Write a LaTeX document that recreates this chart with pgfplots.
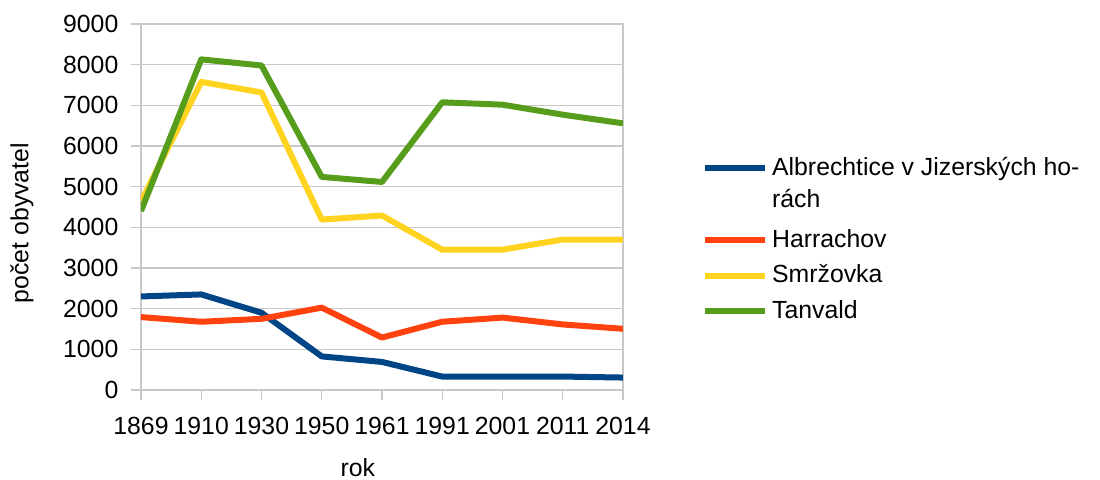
\documentclass[border=0pt]{standalone}
\usepackage{pgfplots}
\pgfplotsset{compat=1.18}
\usepackage{fontspec}
\setmainfont{Liberation Sans}
\definecolor{c1}{HTML}{004586}
\definecolor{c2}{HTML}{FF420E}
\definecolor{c3}{HTML}{FFD320}
\definecolor{c4}{HTML}{579D1C}
\definecolor{gridc}{HTML}{C8C8C8}
\newcommand{\fs}{\fontsize{12.4}{14.5}\selectfont}
\begin{document}
\fs
\begin{tikzpicture}
\useasboundingbox (-70.5pt,-45pt) rectangle (479.5pt,195pt);
\begin{axis}[
  scale only axis,
  width=241pt, height=183pt,
  xmin=0, xmax=8, ymin=0, ymax=9000,
  xtick={0,...,8},
  xticklabels={1869,1910,1930,1950,1961,1991,2001,2011,2014},
  ytick={0,1000,...,9000},
  /pgf/number format/assume math mode=true,
  /pgf/number format/set thousands separator={},
  tick label style={font=\fs},
  label style={font=\fs},
  ymajorgrids,
  grid style={gridc, line width=0.6pt},
  axis line style={gridc, line width=0.6pt},
  tick style={gridc, line width=0.6pt},
  tick align=outside,
  major tick length=5pt,
  xtick pos=bottom, ytick pos=left,
  yticklabel style={xshift=-2pt},
  xticklabel style={yshift=-4.5pt},
  xlabel={rok},
  ylabel={počet obyvatel},
  xlabel style={at={(axis description cs:0.45,-0.213)}, anchor=center},
  ylabel style={at={(axis description cs:-0.247,0.456)}, anchor=center},
  every axis plot/.append style={line width=3pt, line join=round},
  legend image code/.code={\draw[#1] (0pt,0pt) -- (30pt,0pt);},
  legend style={at={(axis description cs:1.151,0.659)}, anchor=north west,
    draw=none, fill=none, font=\fs,
    row sep=3pt},
  legend cell align=left,
]
\addplot[c1] coordinates {(0,2300) (1,2350) (2,1900) (3,826) (4,690) (5,330) (6,330) (7,330) (8,306)};
\addlegendentry{Albrechtice v Jizerských ho-}
\addlegendimage{empty legend}
\addlegendentry{\raisebox{2pt}[\height][\depth]{rách}}
\addplot[c2] coordinates {(0,1793) (1,1678) (2,1750) (3,2025) (4,1290) (5,1678) (6,1780) (7,1612) (8,1505)};
\addlegendentry{Harrachov}
\addplot[c3] coordinates {(0,4630) (1,7577) (2,7317) (3,4190) (4,4290) (5,3450) (6,3450) (7,3700) (8,3700)};
\addlegendentry{Smržovka}
\addplot[c4] coordinates {(0,4400) (1,8130) (2,7980) (3,5240) (4,5115) (5,7075) (6,7016) (7,6770) (8,6557)};
\addlegendentry{Tanvald}
\end{axis}
\end{tikzpicture}
\end{document}
